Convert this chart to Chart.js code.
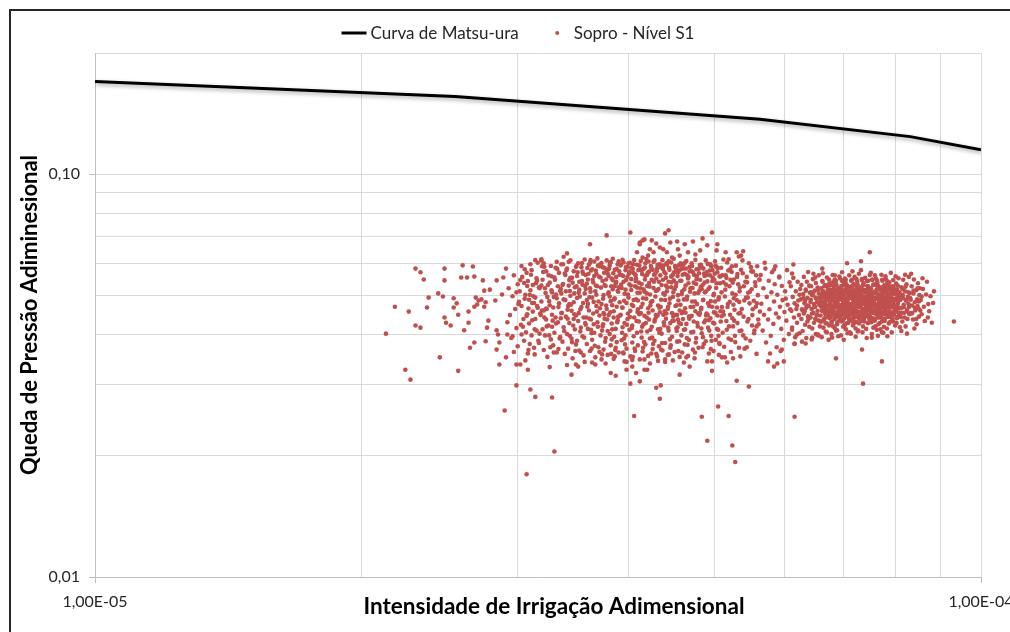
<!DOCTYPE html>
<html lang="pt">
<head>
<meta charset="utf-8">
<title>Curva de Matsu-ura – Sopro Nível S1</title>
<script src="https://cdn.jsdelivr.net/npm/chart.js@4.4.1/dist/chart.umd.min.js"></script>
<style>
  html, body { margin: 0; padding: 0; background: #ffffff; overflow: hidden; }
  #wrap { position: relative; width: 1010px; height: 632px; overflow: hidden; }
  #grafico { position: absolute; left: 0; top: 0; }
  #moldura { position: absolute; left: 9px; top: 9px; width: 1100px; height: 700px;
             border: 2px solid #262626; box-sizing: border-box; pointer-events: none; }
</style>
</head>
<body>
<div id="wrap">
  <canvas id="grafico" width="1040" height="632"></canvas>
  <div id="moldura"></div>
</div>
<script>
// Curva de Matsu-ura (queda de pressão x intensidade de irrigação)
const curvaX = [1.00e-5, 2.55e-5, 5.63e-5, 8.32e-5, 1.00e-4];
const curvaY = [0.170, 0.156, 0.137, 0.124, 0.115];

// Escalas logarítmicas: posições das linhas de grade e rótulos
const ticksX = [1e-5, 2e-5, 3e-5, 4e-5, 5e-5, 6e-5, 7e-5, 8e-5, 9e-5, 1e-4];
const rotulosX = ['1,00E-05', '', '', '', '', '', '', '', '', '1,00E-04'];
const ticksY = [0.01, 0.02, 0.03, 0.04, 0.05, 0.06, 0.07, 0.08, 0.09, 0.1, 0.2];
const rotulosY = ['0,01', '', '', '', '', '', '', '', '', '0,10', ''];

// Ensaios de sopro – nível S1: [intensidade de irrigação, queda de pressão]
const soproPontos = [
[2.13e-5,0.0402],[2.18e-5,0.0469],[2.26e-5,0.0456],[2.30e-5,0.0583],[2.33e-5,0.0571],[2.35e-5,0.0548],[2.30e-5,0.0421],[2.33e-5,0.0416],
[2.38e-5,0.0494],[2.37e-5,0.0467],[2.44e-5,0.0506],[2.47e-5,0.0497],[2.48e-5,0.0583],[2.48e-5,0.0545],[2.48e-5,0.0441],[2.49e-5,0.0428],
[2.52e-5,0.0421],[2.60e-5,0.0594],[2.67e-5,0.0590],[2.59e-5,0.0554],[2.63e-5,0.0554],[2.68e-5,0.0557],[2.54e-5,0.0492],[2.56e-5,0.0478],
[2.54e-5,0.0467],[2.57e-5,0.0448],[2.64e-5,0.0456],[2.61e-5,0.0410],[2.64e-5,0.0428],[2.68e-5,0.0382],[2.65e-5,0.0371],[2.76e-5,0.0385],
[2.74e-5,0.0545],[2.79e-5,0.0517],[2.75e-5,0.0514],[2.69e-5,0.0494],[2.71e-5,0.0486],[2.73e-5,0.0489],[2.76e-5,0.0481],[2.68e-5,0.0469],
[2.70e-5,0.0475],[2.75e-5,0.0469],[2.78e-5,0.0433],[2.83e-5,0.0486],[2.88e-5,0.0503],[2.84e-5,0.0545],[2.89e-5,0.0554],[2.77e-5,0.0416],
[2.84e-5,0.0410],[2.85e-5,0.0400],[2.92e-5,0.0400],[2.96e-5,0.0396],[3.03e-5,0.0400],[2.84e-5,0.0367],[2.86e-5,0.0382],
[2.24e-5,0.0327],[2.27e-5,0.0309],[2.45e-5,0.0351],[2.57e-5,0.0325],[2.86e-5,0.0337],[2.91e-5,0.0351],[2.99e-5,0.0337],[3.02e-5,0.0337],
[3.08e-5,0.0327],[2.99e-5,0.0299],[3.10e-5,0.0292],[3.14e-5,0.0280],[3.28e-5,0.0279],[2.90e-5,0.0259],[3.30e-5,0.0205],[3.07e-5,0.0180],
[4.02e-5,0.0302],[4.12e-5,0.0306],[4.30e-5,0.0295],[4.35e-5,0.0299],[4.34e-5,0.0277],[4.06e-5,0.0251],[4.57e-5,0.0318],[4.69e-5,0.0333],
[4.97e-5,0.0325],[5.30e-5,0.0307],[5.47e-5,0.0297],[5.05e-5,0.0265],[4.84e-5,0.0250],[5.19e-5,0.0251],[4.91e-5,0.0218],[5.24e-5,0.0212],
[5.28e-5,0.0193],[3.82e-5,0.0321],[3.87e-5,0.0316],[3.45e-5,0.0318],
[6.16e-5,0.0250],[6.86e-5,0.0349],[7.36e-5,0.0302],[7.73e-5,0.0343],[5.75e-5,0.0343],[5.84e-5,0.0333],[5.89e-5,0.0339],[5.99e-5,0.0343],
[7.49e-5,0.0640],[7.06e-5,0.0601],[7.32e-5,0.0608],[6.14e-5,0.0597],[6.62e-5,0.0583],[9.32e-5,0.0431],[7.34e-5,0.0367],[7.53e-5,0.0393],
[7.73e-5,0.0405],[7.26e-5,0.0407],[6.16e-5,0.0380],[6.34e-5,0.0380],[5.96e-5,0.0367],
[3.62e-5,0.0670],[3.78e-5,0.0705],[4.02e-5,0.0717],[4.40e-5,0.0713],[4.44e-5,0.0726],[4.97e-5,0.0717],[5.04e-5,0.0670],[5.39e-5,0.0644],
[5.33e-5,0.0625],[4.12e-5,0.0670],[4.15e-5,0.0685],
[4.12e-5,0.0677],[4.17e-5,0.0689],[4.25e-5,0.0685],[4.30e-5,0.0673],[4.34e-5,0.0658],[4.23e-5,0.0651],[4.27e-5,0.0640],[4.38e-5,0.0651],
[4.46e-5,0.0677],[4.54e-5,0.0681],[4.55e-5,0.0651],[4.63e-5,0.0670],[4.73e-5,0.0681],[4.85e-5,0.0693],[4.91e-5,0.0666],[4.82e-5,0.0647],
[4.76e-5,0.0632],[4.67e-5,0.0640],[4.57e-5,0.0628],[4.48e-5,0.0621],[4.42e-5,0.0640],[4.21e-5,0.0628],[4.15e-5,0.0621],[4.09e-5,0.0640],
[5.30e-5,0.0640],[5.36e-5,0.0628],[5.15e-5,0.0640],[5.19e-5,0.0615],[5.03e-5,0.0647],
[3.41e-5,0.0636],[3.19e-5,0.0615],[3.14e-5,0.0612],
[3.49e-5,0.0337],[3.51e-5,0.0333],[3.64e-5,0.0341],[3.67e-5,0.0337],[3.73e-5,0.0347],[3.86e-5,0.0353],[3.96e-5,0.0343],[3.98e-5,0.0327],
[4.04e-5,0.0333],[4.08e-5,0.0321],[4.12e-5,0.0347],[4.17e-5,0.0327],[4.20e-5,0.0327],[4.31e-5,0.0353],[4.40e-5,0.0347],[4.65e-5,0.0351],
[4.91e-5,0.0343],[4.97e-5,0.0343],[5.10e-5,0.0351],[5.17e-5,0.0341],[5.25e-5,0.0349],[5.35e-5,0.0353],
[2.91e-5,0.0583],[2.93e-5,0.0521],[2.94e-5,0.0447],[2.95e-5,0.0392],[2.96e-5,0.0498],[2.97e-5,0.0561],[2.98e-5,0.0463],[2.99e-5,0.0415],
[3.00e-5,0.0533],[3.00e-5,0.0374],[3.01e-5,0.0482],[2.92e-5,0.0429],[2.97e-5,0.0362],[3.02e-5,0.0546],[2.99e-5,0.0509],
[3.03e-5,0.0592],[3.03e-5,0.0471],[3.04e-5,0.0418],[3.05e-5,0.0537],[3.05e-5,0.0386],[3.06e-5,0.0502],[3.07e-5,0.0445],[3.07e-5,0.0569],
[3.08e-5,0.0359],[3.09e-5,0.0488],[3.09e-5,0.0426],[3.10e-5,0.0515],[3.11e-5,0.0398],[3.11e-5,0.0578],[3.12e-5,0.0456],[3.12e-5,0.0531],
[3.13e-5,0.0371],[3.14e-5,0.0494],[3.14e-5,0.0437],[3.15e-5,0.0552],[3.15e-5,0.0409],[3.16e-5,0.0466],[3.16e-5,0.0603],[3.17e-5,0.0381],
[3.17e-5,0.0524],[3.18e-5,0.0451],[3.06e-5,0.0345],[3.10e-5,0.0598],[3.13e-5,0.0479],[3.08e-5,0.0543],
[3.19e-5,0.0611],[3.19e-5,0.0483],[3.20e-5,0.0412],[3.20e-5,0.0547],[3.21e-5,0.0366],[3.21e-5,0.0459],[3.22e-5,0.0521],[3.22e-5,0.0398],
[3.23e-5,0.0574],[3.23e-5,0.0436],[3.24e-5,0.0496],[3.24e-5,0.0352],[3.25e-5,0.0561],[3.25e-5,0.0421],[3.26e-5,0.0473],[3.26e-5,0.0538],
[3.27e-5,0.0389],[3.27e-5,0.0592],[3.28e-5,0.0448],[3.28e-5,0.0509],[3.29e-5,0.0376],[3.29e-5,0.0467],[3.30e-5,0.0554],[3.30e-5,0.0404],
[3.31e-5,0.0586],[3.31e-5,0.0441],[3.32e-5,0.0492],[3.32e-5,0.0361],[3.33e-5,0.0527],[3.33e-5,0.0429],[3.34e-5,0.0478],[3.34e-5,0.0569],
[3.35e-5,0.0394],[3.35e-5,0.0513],[3.21e-5,0.0601],[3.26e-5,0.0332],[3.23e-5,0.0464],[3.28e-5,0.0418],[3.32e-5,0.0606],[3.19e-5,0.0529],
[3.36e-5,0.0598],[3.36e-5,0.0452],[3.37e-5,0.0384],[3.37e-5,0.0531],[3.38e-5,0.0417],[3.38e-5,0.0489],[3.39e-5,0.0567],[3.39e-5,0.0358],
[3.40e-5,0.0443],[3.40e-5,0.0512],[3.41e-5,0.0401],[3.41e-5,0.0583],[3.42e-5,0.0471],[3.42e-5,0.0369],[3.43e-5,0.0546],[3.43e-5,0.0427],
[3.44e-5,0.0499],[3.44e-5,0.0611],[3.45e-5,0.0391],[3.45e-5,0.0458],[3.46e-5,0.0538],[3.46e-5,0.0349],[3.47e-5,0.0481],[3.47e-5,0.0574],
[3.48e-5,0.0412],[3.48e-5,0.0524],[3.49e-5,0.0446],[3.49e-5,0.0378],[3.50e-5,0.0559],[3.50e-5,0.0493],[3.51e-5,0.0432],[3.51e-5,0.0601],
[3.52e-5,0.0365],[3.52e-5,0.0517],[3.53e-5,0.0462],[3.53e-5,0.0407],[3.38e-5,0.0624],[3.41e-5,0.0336],[3.44e-5,0.0553],[3.47e-5,0.0437],
[3.50e-5,0.0386],[3.36e-5,0.0506],[3.43e-5,0.0476],[3.49e-5,0.0589],[3.52e-5,0.0541],
[3.54e-5,0.0588],[3.54e-5,0.0468],[3.55e-5,0.0396],[3.55e-5,0.0532],[3.56e-5,0.0355],[3.56e-5,0.0441],[3.57e-5,0.0506],[3.57e-5,0.0614],
[3.58e-5,0.0423],[3.58e-5,0.0562],[3.59e-5,0.0379],[3.59e-5,0.0487],[3.60e-5,0.0548],[3.60e-5,0.0413],[3.61e-5,0.0596],[3.61e-5,0.0459],
[3.62e-5,0.0364],[3.62e-5,0.0521],[3.63e-5,0.0436],[3.63e-5,0.0577],[3.64e-5,0.0494],[3.64e-5,0.0388],[3.65e-5,0.0539],[3.65e-5,0.0451],
[3.66e-5,0.0607],[3.66e-5,0.0404],[3.67e-5,0.0512],[3.67e-5,0.0351],[3.68e-5,0.0471],[3.68e-5,0.0566],[3.69e-5,0.0429],[3.69e-5,0.0527],
[3.70e-5,0.0372],[3.70e-5,0.0483],[3.71e-5,0.0591],[3.71e-5,0.0446],[3.72e-5,0.0398],[3.72e-5,0.0554],[3.55e-5,0.0573],[3.58e-5,0.0519],
[3.60e-5,0.0477],[3.62e-5,0.0603],[3.64e-5,0.0581],[3.66e-5,0.0559],[3.68e-5,0.0502],[3.57e-5,0.0342],[3.63e-5,0.0411],[3.69e-5,0.0618],
[3.71e-5,0.0362],[3.59e-5,0.0535],
[3.73e-5,0.0602],[3.73e-5,0.0476],[3.74e-5,0.0419],[3.74e-5,0.0543],[3.75e-5,0.0367],[3.75e-5,0.0501],[3.76e-5,0.0585],[3.76e-5,0.0438],
[3.77e-5,0.0392],[3.77e-5,0.0528],[3.78e-5,0.0611],[3.78e-5,0.0463],[3.79e-5,0.0356],[3.79e-5,0.0567],[3.80e-5,0.0447],[3.80e-5,0.0509],
[3.81e-5,0.0401],[3.81e-5,0.0594],[3.82e-5,0.0484],[3.82e-5,0.0376],[3.83e-5,0.0551],[3.83e-5,0.0426],[3.84e-5,0.0518],[3.84e-5,0.0617],
[3.85e-5,0.0457],[3.85e-5,0.0348],[3.86e-5,0.0579],[3.86e-5,0.0492],[3.87e-5,0.0413],[3.87e-5,0.0536],[3.88e-5,0.0383],[3.88e-5,0.0469],
[3.89e-5,0.0598],[3.89e-5,0.0434],[3.90e-5,0.0524],[3.90e-5,0.0361],[3.91e-5,0.0481],[3.91e-5,0.0563],[3.74e-5,0.0588],[3.76e-5,0.0531],
[3.78e-5,0.0574],[3.80e-5,0.0559],[3.82e-5,0.0605],[3.84e-5,0.0546],[3.86e-5,0.0527],[3.88e-5,0.0582],[3.90e-5,0.0608],[3.75e-5,0.0452],
[3.79e-5,0.0408],[3.83e-5,0.0389],[3.87e-5,0.0371],[3.77e-5,0.0339],[3.81e-5,0.0497],[3.85e-5,0.0441],[3.89e-5,0.0513],
[3.92e-5,0.0594],[3.92e-5,0.0448],[3.93e-5,0.0387],[3.93e-5,0.0522],[3.94e-5,0.0613],[3.94e-5,0.0466],[3.95e-5,0.0359],[3.95e-5,0.0541],
[3.96e-5,0.0427],[3.96e-5,0.0505],[3.97e-5,0.0578],[3.97e-5,0.0398],[3.98e-5,0.0479],[3.98e-5,0.0369],[3.99e-5,0.0556],[3.99e-5,0.0437],
[4.00e-5,0.0601],[4.00e-5,0.0494],[4.01e-5,0.0411],[4.01e-5,0.0533],[4.02e-5,0.0353],[4.02e-5,0.0458],[4.03e-5,0.0587],[4.03e-5,0.0516],
[4.04e-5,0.0421],[4.04e-5,0.0382],[4.05e-5,0.0569],[4.05e-5,0.0471],[4.06e-5,0.0612],[4.06e-5,0.0441],[4.07e-5,0.0527],[4.07e-5,0.0364],
[4.08e-5,0.0489],[4.08e-5,0.0551],[4.09e-5,0.0404],[4.09e-5,0.0596],[4.10e-5,0.0462],[4.10e-5,0.0376],[4.11e-5,0.0538],[4.11e-5,0.0431],
[4.12e-5,0.0508],[4.12e-5,0.0581],[3.93e-5,0.0562],[3.95e-5,0.0604],[3.97e-5,0.0517],[3.99e-5,0.0589],[4.01e-5,0.0573],[4.03e-5,0.0549],
[4.05e-5,0.0598],[4.07e-5,0.0564],[4.09e-5,0.0523],[3.94e-5,0.0417],[3.98e-5,0.0342],[4.04e-5,0.0346],[4.10e-5,0.0486],
[4.13e-5,0.0609],[4.13e-5,0.0452],[4.14e-5,0.0393],[4.14e-5,0.0534],[4.15e-5,0.0477],[4.15e-5,0.0363],[4.16e-5,0.0582],[4.16e-5,0.0424],
[4.17e-5,0.0511],[4.17e-5,0.0445],[4.18e-5,0.0559],[4.18e-5,0.0378],[4.19e-5,0.0491],[4.19e-5,0.0616],[4.20e-5,0.0407],[4.20e-5,0.0528],
[4.21e-5,0.0465],[4.21e-5,0.0354],[4.22e-5,0.0573],[4.22e-5,0.0436],[4.23e-5,0.0503],[4.23e-5,0.0391],[4.24e-5,0.0592],[4.24e-5,0.0481],
[4.25e-5,0.0418],[4.25e-5,0.0547],[4.26e-5,0.0368],[4.26e-5,0.0459],[4.27e-5,0.0606],[4.27e-5,0.0522],[4.28e-5,0.0431],[4.28e-5,0.0386],
[4.29e-5,0.0566],[4.29e-5,0.0497],[4.30e-5,0.0443],[4.30e-5,0.0358],[4.31e-5,0.0584],[4.31e-5,0.0515],[4.32e-5,0.0412],[4.32e-5,0.0472],
[4.33e-5,0.0541],[4.33e-5,0.0374],[4.34e-5,0.0598],[4.34e-5,0.0454],[4.14e-5,0.0577],[4.16e-5,0.0518],[4.18e-5,0.0601],[4.20e-5,0.0563],
[4.22e-5,0.0537],[4.26e-5,0.0579],[4.28e-5,0.0611],[4.30e-5,0.0551],[4.17e-5,0.0347],[4.23e-5,0.0339],[4.32e-5,0.0344],
[4.35e-5,0.0588],[4.35e-5,0.0469],[4.36e-5,0.0402],[4.36e-5,0.0531],[4.37e-5,0.0365],[4.37e-5,0.0612],[4.38e-5,0.0448],[4.38e-5,0.0506],
[4.39e-5,0.0572],[4.39e-5,0.0421],[4.40e-5,0.0487],[4.40e-5,0.0381],[4.41e-5,0.0553],[4.41e-5,0.0438],[4.42e-5,0.0597],[4.42e-5,0.0512],
[4.43e-5,0.0356],[4.43e-5,0.0463],[4.44e-5,0.0541],[4.44e-5,0.0409],[4.45e-5,0.0579],[4.45e-5,0.0478],[4.46e-5,0.0427],[4.46e-5,0.0371],
[4.47e-5,0.0524],[4.47e-5,0.0604],[4.48e-5,0.0452],[4.48e-5,0.0395],[4.49e-5,0.0563],[4.49e-5,0.0496],[4.50e-5,0.0433],[4.50e-5,0.0617],
[4.51e-5,0.0362],[4.51e-5,0.0518],[4.52e-5,0.0471],[4.52e-5,0.0586],[4.53e-5,0.0414],[4.53e-5,0.0537],[4.54e-5,0.0447],[4.54e-5,0.0384],
[4.55e-5,0.0571],[4.55e-5,0.0501],[4.56e-5,0.0428],[4.56e-5,0.0594],[4.57e-5,0.0459],[4.57e-5,0.0352],[4.38e-5,0.0593],[4.41e-5,0.0529],
[4.44e-5,0.0608],[4.47e-5,0.0557],[4.50e-5,0.0545],[4.53e-5,0.0582],[4.40e-5,0.0342],[4.49e-5,0.0345],[4.55e-5,0.0436],
[4.58e-5,0.0601],[4.58e-5,0.0474],[4.59e-5,0.0398],[4.59e-5,0.0544],[4.60e-5,0.0361],[4.60e-5,0.0512],[4.61e-5,0.0437],[4.61e-5,0.0583],
[4.62e-5,0.0489],[4.62e-5,0.0411],[4.63e-5,0.0566],[4.63e-5,0.0378],[4.64e-5,0.0453],[4.64e-5,0.0529],[4.65e-5,0.0609],[4.65e-5,0.0425],
[4.66e-5,0.0497],[4.67e-5,0.0354],[4.67e-5,0.0551],[4.68e-5,0.0443],[4.68e-5,0.0388],[4.69e-5,0.0574],[4.70e-5,0.0468],[4.70e-5,0.0521],
[4.71e-5,0.0405],[4.72e-5,0.0592],[4.72e-5,0.0483],[4.73e-5,0.0367],[4.74e-5,0.0538],[4.74e-5,0.0431],[4.75e-5,0.0506],[4.76e-5,0.0613],
[4.76e-5,0.0457],[4.77e-5,0.0392],[4.78e-5,0.0559],[4.78e-5,0.0476],[4.79e-5,0.0419],[4.80e-5,0.0582],[4.80e-5,0.0371],[4.81e-5,0.0514],
[4.81e-5,0.0448],[4.82e-5,0.0547],[4.60e-5,0.0587],[4.63e-5,0.0603],[4.66e-5,0.0561],[4.69e-5,0.0589],[4.73e-5,0.0571],[4.77e-5,0.0534],
[4.62e-5,0.0341],[4.75e-5,0.0349],
[4.83e-5,0.0596],[4.83e-5,0.0462],[4.84e-5,0.0403],[4.85e-5,0.0531],[4.85e-5,0.0372],[4.86e-5,0.0488],[4.87e-5,0.0567],[4.87e-5,0.0429],
[4.88e-5,0.0509],[4.89e-5,0.0385],[4.89e-5,0.0611],[4.90e-5,0.0451],[4.91e-5,0.0542],[4.92e-5,0.0416],[4.92e-5,0.0478],[4.93e-5,0.0359],
[4.94e-5,0.0577],[4.94e-5,0.0524],[4.95e-5,0.0439],[4.96e-5,0.0397],[4.96e-5,0.0591],[4.97e-5,0.0469],[4.98e-5,0.0553],[4.99e-5,0.0364],
[4.99e-5,0.0501],[5.00e-5,0.0426],[5.01e-5,0.0608],[5.01e-5,0.0483],[5.02e-5,0.0388],[5.03e-5,0.0536],[5.04e-5,0.0446],[5.04e-5,0.0571],
[5.05e-5,0.0411],[5.06e-5,0.0495],[5.06e-5,0.0356],[5.07e-5,0.0558],[5.08e-5,0.0457],[4.86e-5,0.0583],[4.90e-5,0.0562],[4.95e-5,0.0598],
[5.00e-5,0.0547],[5.03e-5,0.0589],[4.84e-5,0.0519],[4.93e-5,0.0434],[5.07e-5,0.0379],
[5.09e-5,0.0586],[5.10e-5,0.0468],[5.11e-5,0.0404],[5.12e-5,0.0539],[5.13e-5,0.0373],[5.14e-5,0.0497],[5.15e-5,0.0561],[5.16e-5,0.0432],
[5.17e-5,0.0604],[5.18e-5,0.0476],[5.19e-5,0.0391],[5.20e-5,0.0527],[5.21e-5,0.0448],[5.22e-5,0.0362],[5.23e-5,0.0572],[5.24e-5,0.0506],
[5.25e-5,0.0419],[5.26e-5,0.0548],[5.27e-5,0.0461],[5.28e-5,0.0383],[5.29e-5,0.0593],[5.30e-5,0.0487],[5.31e-5,0.0427],[5.32e-5,0.0533],
[5.33e-5,0.0371],[5.34e-5,0.0512],[5.35e-5,0.0452],[5.12e-5,0.0614],[5.16e-5,0.0553],[5.21e-5,0.0581],[5.26e-5,0.0492],[5.31e-5,0.0565],
[5.14e-5,0.0351],[5.24e-5,0.0439],[5.34e-5,0.0408],
[5.36e-5,0.0579],[5.37e-5,0.0463],[5.39e-5,0.0398],[5.40e-5,0.0527],[5.41e-5,0.0369],[5.43e-5,0.0494],[5.44e-5,0.0556],[5.45e-5,0.0431],
[5.47e-5,0.0601],[5.48e-5,0.0478],[5.49e-5,0.0386],[5.51e-5,0.0518],[5.52e-5,0.0447],[5.53e-5,0.0573],[5.55e-5,0.0409],[5.56e-5,0.0539],
[5.57e-5,0.0469],[5.58e-5,0.0358],[5.59e-5,0.0591],[5.60e-5,0.0501],[5.61e-5,0.0424],[5.62e-5,0.0548],[5.63e-5,0.0456],[5.38e-5,0.0611],
[5.42e-5,0.0541],[5.46e-5,0.0508],[5.50e-5,0.0588],[5.54e-5,0.0485],[5.58e-5,0.0419],[5.44e-5,0.0372],
[5.64e-5,0.0562],[5.65e-5,0.0477],[5.67e-5,0.0409],[5.68e-5,0.0521],[5.69e-5,0.0448],[5.71e-5,0.0583],[5.72e-5,0.0382],[5.73e-5,0.0496],
[5.75e-5,0.0436],[5.76e-5,0.0544],[5.77e-5,0.0462],[5.79e-5,0.0397],[5.80e-5,0.0509],[5.81e-5,0.0571],[5.83e-5,0.0425],[5.84e-5,0.0483],
[5.85e-5,0.0533],[5.87e-5,0.0451],[5.88e-5,0.0372],[5.89e-5,0.0502],[5.91e-5,0.0441],[5.92e-5,0.0557],[5.93e-5,0.0469],[5.95e-5,0.0413],
[5.96e-5,0.0528],[5.97e-5,0.0487],[5.99e-5,0.0388],[6.00e-5,0.0455],[6.01e-5,0.0512],[6.03e-5,0.0433],[6.04e-5,0.0578],[6.05e-5,0.0474],
[6.07e-5,0.0401],[6.08e-5,0.0539],[6.09e-5,0.0462],[5.70e-5,0.0603],[5.78e-5,0.0359],[5.86e-5,0.0591],[5.94e-5,0.0364],[6.02e-5,0.0491],
[6.10e-5,0.0527],[6.11e-5,0.0458],[6.12e-5,0.0411],[6.13e-5,0.0496],[6.14e-5,0.0553],[6.15e-5,0.0441],[6.16e-5,0.0478],[6.17e-5,0.0394],
[6.18e-5,0.0512],[6.19e-5,0.0463],[6.20e-5,0.0428],[6.21e-5,0.0541],[6.22e-5,0.0486],[6.23e-5,0.0447],[6.24e-5,0.0403],[6.25e-5,0.0519],
[6.12e-5,0.0567],[6.16e-5,0.0379],[6.20e-5,0.0472],[6.24e-5,0.0502],
[6.26e-5,0.0489],[6.27e-5,0.0437],[6.27e-5,0.0531],[6.28e-5,0.0462],[6.29e-5,0.0408],[6.30e-5,0.0504],[6.31e-5,0.0556],[6.31e-5,0.0451],
[6.32e-5,0.0478],[6.33e-5,0.0423],[6.34e-5,0.0517],[6.35e-5,0.0466],[6.35e-5,0.0392],[6.36e-5,0.0541],[6.37e-5,0.0493],[6.38e-5,0.0444],
[6.38e-5,0.0572],[6.39e-5,0.0471],[6.40e-5,0.0418],[6.41e-5,0.0508],[6.29e-5,0.0459],[6.33e-5,0.0485],[6.37e-5,0.0431],[6.40e-5,0.0528],
[6.28e-5,0.0384],
[6.42e-5,0.0482],[6.42e-5,0.0441],[6.43e-5,0.0527],[6.44e-5,0.0463],[6.45e-5,0.0414],[6.45e-5,0.0501],[6.46e-5,0.0549],[6.47e-5,0.0453],
[6.48e-5,0.0476],[6.48e-5,0.0428],[6.49e-5,0.0514],[6.50e-5,0.0469],[6.51e-5,0.0537],[6.51e-5,0.0401],[6.52e-5,0.0491],[6.53e-5,0.0447],
[6.54e-5,0.0523],[6.54e-5,0.0458],[6.55e-5,0.0434],[6.56e-5,0.0506],[6.56e-5,0.0561],[6.57e-5,0.0474],[6.58e-5,0.0419],[6.58e-5,0.0495],
[6.44e-5,0.0389],[6.47e-5,0.0566],[6.50e-5,0.0437],[6.53e-5,0.0481],[6.55e-5,0.0398],[6.43e-5,0.0509],
[6.59e-5,0.0487],[6.59e-5,0.0446],[6.60e-5,0.0521],[6.60e-5,0.0469],[6.61e-5,0.0431],[6.62e-5,0.0503],[6.62e-5,0.0543],[6.63e-5,0.0458],
[6.63e-5,0.0479],[6.64e-5,0.0416],[6.64e-5,0.0512],[6.65e-5,0.0466],[6.66e-5,0.0494],[6.66e-5,0.0439],[6.67e-5,0.0531],[6.67e-5,0.0452],
[6.68e-5,0.0485],[6.68e-5,0.0407],[6.69e-5,0.0508],[6.69e-5,0.0462],[6.70e-5,0.0554],[6.70e-5,0.0426],[6.71e-5,0.0491],[6.71e-5,0.0472],
[6.72e-5,0.0518],[6.72e-5,0.0443],[6.73e-5,0.0499],[6.73e-5,0.0457],[6.74e-5,0.0535],[6.74e-5,0.0421],[6.75e-5,0.0476],[6.75e-5,0.0509],
[6.61e-5,0.0394],[6.63e-5,0.0568],[6.65e-5,0.0435],[6.67e-5,0.0474],[6.69e-5,0.0527],[6.71e-5,0.0449],[6.73e-5,0.0388],[6.62e-5,0.0497],
[6.76e-5,0.0483],[6.76e-5,0.0442],[6.77e-5,0.0516],[6.77e-5,0.0461],[6.78e-5,0.0428],[6.78e-5,0.0497],[6.79e-5,0.0538],[6.79e-5,0.0471],
[6.80e-5,0.0452],[6.80e-5,0.0506],[6.81e-5,0.0419],[6.81e-5,0.0488],[6.82e-5,0.0527],[6.82e-5,0.0465],[6.83e-5,0.0437],[6.83e-5,0.0499],
[6.84e-5,0.0477],[6.84e-5,0.0548],[6.85e-5,0.0448],[6.85e-5,0.0512],[6.86e-5,0.0409],[6.86e-5,0.0468],[6.87e-5,0.0491],[6.87e-5,0.0531],
[6.88e-5,0.0456],[6.88e-5,0.0424],[6.89e-5,0.0503],[6.89e-5,0.0479],[6.90e-5,0.0443],[6.90e-5,0.0521],[6.91e-5,0.0463],[6.91e-5,0.0494],
[6.92e-5,0.0434],[6.92e-5,0.0557],[6.93e-5,0.0472],[6.93e-5,0.0508],[6.78e-5,0.0401],[6.80e-5,0.0562],[6.82e-5,0.0485],[6.84e-5,0.0415],
[6.86e-5,0.0544],[6.88e-5,0.0488],[6.90e-5,0.0396],[6.92e-5,0.0517],[6.77e-5,0.0458],
[6.94e-5,0.0489],[6.94e-5,0.0447],[6.95e-5,0.0523],[6.95e-5,0.0466],[6.96e-5,0.0431],[6.96e-5,0.0501],[6.97e-5,0.0543],[6.97e-5,0.0474],
[6.98e-5,0.0455],[6.98e-5,0.0513],[6.99e-5,0.0418],[6.99e-5,0.0485],[7.00e-5,0.0532],[7.00e-5,0.0461],[7.01e-5,0.0439],[7.01e-5,0.0496],
[7.02e-5,0.0478],[7.02e-5,0.0551],[7.03e-5,0.0451],[7.03e-5,0.0509],[7.04e-5,0.0412],[7.04e-5,0.0469],[7.05e-5,0.0492],[7.05e-5,0.0527],
[7.06e-5,0.0458],[7.06e-5,0.0427],[7.07e-5,0.0505],[7.07e-5,0.0482],[7.08e-5,0.0444],[7.08e-5,0.0518],[7.09e-5,0.0467],[7.09e-5,0.0498],
[7.10e-5,0.0436],[7.10e-5,0.0561],[7.11e-5,0.0475],[7.11e-5,0.0511],[6.95e-5,0.0398],[6.97e-5,0.0571],[6.99e-5,0.0479],[7.01e-5,0.0421],
[7.03e-5,0.0539],[7.05e-5,0.0487],[7.07e-5,0.0403],[7.09e-5,0.0524],[7.00e-5,0.0388],
[7.12e-5,0.0493],[7.12e-5,0.0449],[7.13e-5,0.0526],[7.13e-5,0.0468],[7.14e-5,0.0433],[7.14e-5,0.0504],[7.15e-5,0.0547],[7.15e-5,0.0477],
[7.16e-5,0.0457],[7.16e-5,0.0515],[7.17e-5,0.0421],[7.17e-5,0.0488],[7.18e-5,0.0534],[7.18e-5,0.0463],[7.19e-5,0.0441],[7.19e-5,0.0499],
[7.20e-5,0.0481],[7.20e-5,0.0556],[7.21e-5,0.0453],[7.21e-5,0.0511],[7.22e-5,0.0414],[7.22e-5,0.0471],[7.23e-5,0.0495],[7.23e-5,0.0529],
[7.24e-5,0.0459],[7.24e-5,0.0429],[7.25e-5,0.0507],[7.25e-5,0.0484],[7.26e-5,0.0446],[7.26e-5,0.0521],[7.27e-5,0.0469],[7.27e-5,0.0502],
[7.28e-5,0.0438],[7.28e-5,0.0566],[7.29e-5,0.0478],[7.29e-5,0.0514],[7.30e-5,0.0455],[7.13e-5,0.0402],[7.16e-5,0.0574],[7.19e-5,0.0486],
[7.22e-5,0.0395],[7.25e-5,0.0541],[7.28e-5,0.0491],[7.18e-5,0.0425],[7.27e-5,0.0409],
[7.31e-5,0.0491],[7.31e-5,0.0446],[7.32e-5,0.0524],[7.32e-5,0.0467],[7.33e-5,0.0432],[7.33e-5,0.0502],[7.34e-5,0.0549],[7.34e-5,0.0475],
[7.35e-5,0.0456],[7.36e-5,0.0513],[7.36e-5,0.0419],[7.37e-5,0.0487],[7.37e-5,0.0536],[7.38e-5,0.0462],[7.38e-5,0.0439],[7.39e-5,0.0497],
[7.40e-5,0.0479],[7.40e-5,0.0553],[7.41e-5,0.0452],[7.41e-5,0.0509],[7.42e-5,0.0413],[7.42e-5,0.0471],[7.43e-5,0.0494],[7.44e-5,0.0528],
[7.44e-5,0.0458],[7.45e-5,0.0427],[7.45e-5,0.0506],[7.46e-5,0.0483],[7.46e-5,0.0445],[7.47e-5,0.0519],[7.47e-5,0.0466],[7.48e-5,0.0501],
[7.48e-5,0.0437],[7.49e-5,0.0562],[7.49e-5,0.0477],[7.32e-5,0.0578],[7.35e-5,0.0405],[7.38e-5,0.0516],[7.41e-5,0.0485],[7.43e-5,0.0392],
[7.46e-5,0.0544],[7.48e-5,0.0461],[7.34e-5,0.0489],[7.39e-5,0.0448],[7.44e-5,0.0473],
[7.50e-5,0.0488],[7.50e-5,0.0443],[7.51e-5,0.0521],[7.52e-5,0.0464],[7.52e-5,0.0429],[7.53e-5,0.0499],[7.54e-5,0.0546],[7.54e-5,0.0472],
[7.55e-5,0.0453],[7.56e-5,0.0511],[7.56e-5,0.0416],[7.57e-5,0.0485],[7.58e-5,0.0533],[7.58e-5,0.0459],[7.59e-5,0.0436],[7.60e-5,0.0494],
[7.60e-5,0.0476],[7.61e-5,0.0551],[7.62e-5,0.0449],[7.62e-5,0.0506],[7.63e-5,0.0411],[7.64e-5,0.0468],[7.64e-5,0.0491],[7.65e-5,0.0526],
[7.66e-5,0.0455],[7.66e-5,0.0424],[7.67e-5,0.0503],[7.68e-5,0.0481],[7.68e-5,0.0441],[7.69e-5,0.0517],[7.51e-5,0.0569],[7.53e-5,0.0401],
[7.55e-5,0.0492],[7.57e-5,0.0438],[7.59e-5,0.0561],[7.61e-5,0.0465],[7.63e-5,0.0529],[7.65e-5,0.0397],[7.67e-5,0.0473],[7.69e-5,0.0458],
[7.52e-5,0.0505],[7.56e-5,0.0482],[7.60e-5,0.0419],[7.64e-5,0.0538],[7.68e-5,0.0497],
[7.70e-5,0.0486],[7.71e-5,0.0445],[7.71e-5,0.0523],[7.72e-5,0.0466],[7.73e-5,0.0431],[7.73e-5,0.0502],[7.74e-5,0.0544],[7.75e-5,0.0473],
[7.75e-5,0.0454],[7.76e-5,0.0513],[7.77e-5,0.0418],[7.77e-5,0.0489],[7.78e-5,0.0531],[7.79e-5,0.0461],[7.79e-5,0.0438],[7.80e-5,0.0497],
[7.81e-5,0.0478],[7.81e-5,0.0549],[7.82e-5,0.0451],[7.83e-5,0.0508],[7.83e-5,0.0414],[7.84e-5,0.0469],[7.85e-5,0.0493],[7.85e-5,0.0527],
[7.86e-5,0.0457],[7.87e-5,0.0426],[7.87e-5,0.0504],[7.88e-5,0.0482],[7.89e-5,0.0443],[7.89e-5,0.0518],[7.72e-5,0.0563],[7.76e-5,0.0404],
[7.80e-5,0.0558],[7.84e-5,0.0396],[7.88e-5,0.0539],[7.74e-5,0.0487],[7.78e-5,0.0471],[7.82e-5,0.0521],[7.86e-5,0.0475],[7.70e-5,0.0412],
[7.90e-5,0.0491],[7.91e-5,0.0447],[7.92e-5,0.0526],[7.93e-5,0.0468],[7.94e-5,0.0434],[7.95e-5,0.0504],[7.96e-5,0.0546],[7.97e-5,0.0476],
[7.98e-5,0.0455],[7.99e-5,0.0514],[8.00e-5,0.0421],[8.01e-5,0.0487],[8.02e-5,0.0535],[8.03e-5,0.0463],[8.04e-5,0.0439],[8.05e-5,0.0498],
[8.06e-5,0.0479],[8.07e-5,0.0552],[8.08e-5,0.0452],[8.09e-5,0.0509],[8.10e-5,0.0417],[7.91e-5,0.0569],[7.93e-5,0.0405],[7.95e-5,0.0482],
[7.97e-5,0.0522],[7.99e-5,0.0461],[8.01e-5,0.0558],[8.03e-5,0.0427],[8.05e-5,0.0471],[8.07e-5,0.0493],[8.09e-5,0.0444],[7.92e-5,0.0492],
[7.96e-5,0.0431],[8.00e-5,0.0505],[8.04e-5,0.0517],
[8.11e-5,0.0488],[8.12e-5,0.0442],[8.13e-5,0.0524],[8.14e-5,0.0466],[8.15e-5,0.0431],[8.16e-5,0.0501],[8.17e-5,0.0547],[8.18e-5,0.0474],
[8.19e-5,0.0453],[8.21e-5,0.0512],[8.22e-5,0.0419],[8.23e-5,0.0485],[8.24e-5,0.0533],[8.25e-5,0.0461],[8.26e-5,0.0437],[8.27e-5,0.0496],
[8.28e-5,0.0477],[8.29e-5,0.0556],[8.30e-5,0.0449],[8.31e-5,0.0507],[8.13e-5,0.0408],[8.17e-5,0.0492],[8.21e-5,0.0563],[8.25e-5,0.0402],
[8.29e-5,0.0468],
[8.32e-5,0.0493],[8.33e-5,0.0451],[8.35e-5,0.0527],[8.36e-5,0.0472],[8.38e-5,0.0436],[8.39e-5,0.0506],[8.40e-5,0.0548],[8.42e-5,0.0481],
[8.43e-5,0.0459],[8.45e-5,0.0515],[8.46e-5,0.0424],[8.47e-5,0.0489],[8.49e-5,0.0536],[8.50e-5,0.0464],[8.51e-5,0.0443],[8.52e-5,0.0501],
[8.34e-5,0.0566],[8.41e-5,0.0414],[8.48e-5,0.0471],[8.53e-5,0.0521],
[8.55e-5,0.0487],[8.57e-5,0.0449],[8.60e-5,0.0519],[8.62e-5,0.0469],[8.64e-5,0.0432],[8.67e-5,0.0503],[8.69e-5,0.0541],[8.72e-5,0.0476],
[8.74e-5,0.0457],[8.77e-5,0.0498],[8.80e-5,0.0428],[8.83e-5,0.0479],[8.85e-5,0.0512],[8.59e-5,0.0552],[8.71e-5,0.0441],
[6.84e-5,0.0561],[6.50e-5,0.0554],[5.84e-5,0.0580],[5.92e-5,0.0554],[6.55e-5,0.0400],[6.79e-5,0.0393],[6.88e-5,0.0410],[6.70e-5,0.0405],
[6.20e-5,0.0400],[6.45e-5,0.0393],[6.12e-5,0.0416],[7.02e-5,0.0423],[7.11e-5,0.0405],
[3.035e-5,0.0556],[3.045e-5,0.0437],[3.055e-5,0.0491],[3.065e-5,0.0405],[3.075e-5,0.0528],[3.085e-5,0.0464],[3.095e-5,0.0379],[3.015e-5,0.0512],
[3.025e-5,0.0423],[3.055e-5,0.0581],[3.075e-5,0.0449],[3.085e-5,0.0366],[3.095e-5,0.0502],[3.005e-5,0.0476],
[3.105e-5,0.0563],[3.115e-5,0.0434],[3.125e-5,0.0498],[3.135e-5,0.0412],[3.145e-5,0.0536],[3.155e-5,0.0471],[3.165e-5,0.0386],[3.175e-5,0.0521],
[3.185e-5,0.0447],[3.195e-5,0.0591],[3.115e-5,0.0479],[3.135e-5,0.0357],[3.155e-5,0.0544],[3.175e-5,0.0402],[3.195e-5,0.0459],
[3.205e-5,0.0572],[3.215e-5,0.0441],[3.225e-5,0.0507],[3.235e-5,0.0419],[3.245e-5,0.0531],[3.255e-5,0.0484],[3.265e-5,0.0372],[3.275e-5,0.0558],
[3.285e-5,0.0433],[3.295e-5,0.0496],[3.215e-5,0.0589],[3.235e-5,0.0463],[3.255e-5,0.0398],[3.275e-5,0.0515],[3.295e-5,0.0361],
[3.305e-5,0.0547],[3.315e-5,0.0426],[3.325e-5,0.0582],[3.335e-5,0.0468],[3.345e-5,0.0391],[3.355e-5,0.0519],[3.365e-5,0.0453],[3.375e-5,0.0598],
[3.385e-5,0.0408],[3.395e-5,0.0487],[3.315e-5,0.0503],[3.335e-5,0.0368],[3.355e-5,0.0439],[3.375e-5,0.0534],[3.395e-5,0.0562],
[3.405e-5,0.0578],[3.415e-5,0.0461],[3.425e-5,0.0529],[3.435e-5,0.0397],[3.445e-5,0.0474],[3.455e-5,0.0553],[3.465e-5,0.0421],[3.475e-5,0.0506],
[3.485e-5,0.0364],[3.495e-5,0.0592],[3.415e-5,0.0438],[3.435e-5,0.0513],[3.455e-5,0.0383],[3.475e-5,0.0449],[3.495e-5,0.0527],[3.425e-5,0.0606],
[3.505e-5,0.0571],[3.515e-5,0.0452],[3.525e-5,0.0497],[3.535e-5,0.0416],[3.545e-5,0.0543],[3.555e-5,0.0479],[3.565e-5,0.0393],[3.575e-5,0.0528],
[3.585e-5,0.0441],[3.595e-5,0.0585],[3.515e-5,0.0508],[3.535e-5,0.0361],[3.555e-5,0.0566],[3.575e-5,0.0427],[3.595e-5,0.0469],[3.545e-5,0.0602],
[3.605e-5,0.0566],[3.615e-5,0.0438],[3.625e-5,0.0511],[3.635e-5,0.0403],[3.645e-5,0.0547],[3.655e-5,0.0482],[3.665e-5,0.0375],[3.675e-5,0.0529],
[3.685e-5,0.0456],[3.695e-5,0.0593],[3.615e-5,0.0495],[3.635e-5,0.0369],[3.655e-5,0.0424],[3.675e-5,0.0577],[3.695e-5,0.0418],[3.625e-5,0.0612],
[3.705e-5,0.0557],[3.715e-5,0.0465],[3.725e-5,0.0523],[3.735e-5,0.0409],[3.745e-5,0.0491],[3.755e-5,0.0569],[3.765e-5,0.0384],[3.775e-5,0.0548],
[3.785e-5,0.0436],[3.795e-5,0.0505],[3.715e-5,0.0597],[3.735e-5,0.0357],[3.755e-5,0.0449],[3.775e-5,0.0472],[3.795e-5,0.0581],[3.745e-5,0.0424],
[3.805e-5,0.0583],[3.815e-5,0.0454],[3.825e-5,0.0527],[3.835e-5,0.0412],[3.845e-5,0.0568],[3.855e-5,0.0489],[3.865e-5,0.0366],[3.875e-5,0.0541],
[3.885e-5,0.0429],[3.895e-5,0.0511],[3.815e-5,0.0604],[3.835e-5,0.0473],[3.855e-5,0.0395],[3.875e-5,0.0556],[3.895e-5,0.0443],[3.825e-5,0.0358],
[3.905e-5,0.0574],[3.915e-5,0.0446],[3.925e-5,0.0532],[3.935e-5,0.0404],[3.945e-5,0.0559],[3.955e-5,0.0485],[3.965e-5,0.0378],[3.975e-5,0.0546],
[3.985e-5,0.0423],[3.995e-5,0.0503],[3.915e-5,0.0597],[3.935e-5,0.0467],[3.955e-5,0.0391],[3.975e-5,0.0588],[3.995e-5,0.0451],[3.945e-5,0.0361],
[4.005e-5,0.0566],[4.015e-5,0.0442],[4.025e-5,0.0529],[4.035e-5,0.0415],[4.045e-5,0.0582],[4.055e-5,0.0487],[4.065e-5,0.0369],[4.075e-5,0.0543],
[4.085e-5,0.0432],[4.095e-5,0.0508],[4.015e-5,0.0603],[4.035e-5,0.0474],[4.055e-5,0.0396],[4.075e-5,0.0561],[4.095e-5,0.0455],[4.045e-5,0.0352],
[4.105e-5,0.0578],[4.115e-5,0.0449],[4.125e-5,0.0521],[4.135e-5,0.0407],[4.145e-5,0.0565],[4.155e-5,0.0492],[4.165e-5,0.0383],[4.175e-5,0.0548],
[4.185e-5,0.0427],[4.195e-5,0.0506],[4.115e-5,0.0594],[4.135e-5,0.0468],[4.155e-5,0.0371],[4.175e-5,0.0587],[4.195e-5,0.0441],[4.145e-5,0.0418],
[4.205e-5,0.0569],[4.215e-5,0.0453],[4.225e-5,0.0526],[4.235e-5,0.0411],[4.245e-5,0.0585],[4.255e-5,0.0484],[4.265e-5,0.0379],[4.275e-5,0.0541],
[4.285e-5,0.0436],[4.295e-5,0.0513],[4.215e-5,0.0607],[4.235e-5,0.0472],[4.255e-5,0.0393],[4.275e-5,0.0563],[4.295e-5,0.0447],[4.245e-5,0.0359],
[4.305e-5,0.0574],[4.315e-5,0.0446],[4.325e-5,0.0519],[4.335e-5,0.0404],[4.345e-5,0.0561],[4.355e-5,0.0488],[4.365e-5,0.0381],[4.375e-5,0.0547],
[4.385e-5,0.0429],[4.395e-5,0.0502],[4.315e-5,0.0596],[4.335e-5,0.0466],[4.355e-5,0.0367],[4.375e-5,0.0582],[4.395e-5,0.0457],[4.345e-5,0.0413],
[4.405e-5,0.0567],[4.415e-5,0.0451],[4.425e-5,0.0524],[4.435e-5,0.0416],[4.445e-5,0.0586],[4.455e-5,0.0491],[4.465e-5,0.0376],[4.475e-5,0.0539],
[4.485e-5,0.0433],[4.495e-5,0.0509],[4.415e-5,0.0601],[4.435e-5,0.0469],[4.455e-5,0.0389],[4.475e-5,0.0558],[4.495e-5,0.0444],[4.445e-5,0.0357],
[4.505e-5,0.0571],[4.515e-5,0.0448],[4.525e-5,0.0527],[4.535e-5,0.0408],[4.545e-5,0.0559],[4.555e-5,0.0486],[4.565e-5,0.0385],[4.575e-5,0.0544],
[4.585e-5,0.0425],[4.595e-5,0.0504],[4.515e-5,0.0592],[4.535e-5,0.0473],[4.555e-5,0.0364],[4.575e-5,0.0579],[4.595e-5,0.0452],[4.545e-5,0.0417],
[4.605e-5,0.0563],[4.615e-5,0.0456],[4.625e-5,0.0518],[4.635e-5,0.0412],[4.645e-5,0.0583],[4.655e-5,0.0489],[4.665e-5,0.0377],[4.675e-5,0.0536],
[4.685e-5,0.0438],[4.695e-5,0.0511],[4.615e-5,0.0597],[4.635e-5,0.0465],[4.655e-5,0.0392],[4.675e-5,0.0556],[4.695e-5,0.0443],
[4.705e-5,0.0576],[4.715e-5,0.0445],[4.725e-5,0.0522],[4.735e-5,0.0406],[4.745e-5,0.0562],[4.755e-5,0.0483],[4.765e-5,0.0382],[4.775e-5,0.0549],
[4.785e-5,0.0427],[4.795e-5,0.0507],[4.715e-5,0.0601],[4.735e-5,0.0469],[4.755e-5,0.0361],[4.775e-5,0.0581],[4.795e-5,0.0451],
[4.805e-5,0.0568],[4.815e-5,0.0452],[4.825e-5,0.0525],[4.835e-5,0.0414],[4.845e-5,0.0587],[4.855e-5,0.0487],[4.865e-5,0.0379],[4.875e-5,0.0538],
[4.885e-5,0.0434],[4.895e-5,0.0512],[4.815e-5,0.0595],[4.835e-5,0.0466],[4.855e-5,0.0394],[4.875e-5,0.0559],[4.895e-5,0.0446],
[4.905e-5,0.0572],[4.915e-5,0.0447],[4.925e-5,0.0519],[4.935e-5,0.0409],[4.945e-5,0.0561],[4.955e-5,0.0484],[4.965e-5,0.0386],[4.975e-5,0.0543],
[4.985e-5,0.0428],[4.995e-5,0.0505],[4.915e-5,0.0599],[4.935e-5,0.0471],[4.955e-5,0.0368],[4.975e-5,0.0578],[4.995e-5,0.0454],
[5.005e-5,0.0566],[5.015e-5,0.0453],[5.025e-5,0.0522],[5.035e-5,0.0413],[5.045e-5,0.0584],[5.055e-5,0.0489],[5.065e-5,0.0381],[5.075e-5,0.0536],
[5.085e-5,0.0431],[5.095e-5,0.0509],[5.015e-5,0.0593],[5.035e-5,0.0467],[5.055e-5,0.0397],[5.075e-5,0.0557],[5.095e-5,0.0444],
[5.105e-5,0.0561],[5.125e-5,0.0448],[5.145e-5,0.0517],[5.165e-5,0.0411],[5.185e-5,0.0577],[5.205e-5,0.0482],[5.225e-5,0.0388],[5.245e-5,0.0538],
[5.265e-5,0.0433],[5.285e-5,0.0502],[5.175e-5,0.0468],[5.235e-5,0.0591],[5.115e-5,0.0456],[5.155e-5,0.0532],[5.195e-5,0.0419],[5.215e-5,0.0547],
[5.255e-5,0.0474],[5.275e-5,0.0397],
[5.305e-5,0.0556],[5.325e-5,0.0451],[5.345e-5,0.0523],[5.365e-5,0.0409],[5.385e-5,0.0568],[5.405e-5,0.0486],[5.425e-5,0.0391],[5.445e-5,0.0539],
[5.465e-5,0.0437],[5.485e-5,0.0511],[5.505e-5,0.0574],[5.525e-5,0.0462],[5.545e-5,0.0403],[5.565e-5,0.0528],[5.585e-5,0.0478],[5.605e-5,0.0436],
[5.625e-5,0.0547],[5.335e-5,0.0482],[5.395e-5,0.0443],[5.455e-5,0.0494],[5.515e-5,0.0421],[5.575e-5,0.0561],
[6.305e-5,0.0493],[6.325e-5,0.0457],[6.345e-5,0.0514],[6.365e-5,0.0472],[6.385e-5,0.0437],[6.405e-5,0.0529],[6.425e-5,0.0488],[6.445e-5,0.0451],
[6.465e-5,0.0506],[6.485e-5,0.0468],[6.505e-5,0.0494],[6.525e-5,0.0446],[6.545e-5,0.0517],[6.565e-5,0.0479],[6.585e-5,0.0431],
[6.605e-5,0.0491],[6.615e-5,0.0458],[6.625e-5,0.0512],[6.635e-5,0.0474],[6.645e-5,0.0436],[6.655e-5,0.0527],[6.665e-5,0.0483],[6.675e-5,0.0449],
[6.685e-5,0.0502],[6.695e-5,0.0466],[6.625e-5,0.0541],[6.675e-5,0.0427],
[6.705e-5,0.0487],[6.715e-5,0.0452],[6.725e-5,0.0516],[6.735e-5,0.0471],[6.745e-5,0.0439],[6.755e-5,0.0529],[6.765e-5,0.0494],[6.775e-5,0.0446],
[6.785e-5,0.0508],[6.795e-5,0.0463],[6.735e-5,0.0548],[6.785e-5,0.0431],
[6.805e-5,0.0493],[6.815e-5,0.0455],[6.825e-5,0.0519],[6.835e-5,0.0477],[6.845e-5,0.0441],[6.855e-5,0.0533],[6.865e-5,0.0486],[6.875e-5,0.0452],
[6.885e-5,0.0511],[6.895e-5,0.0468],[6.835e-5,0.0545],[6.885e-5,0.0429],
[6.905e-5,0.0489],[6.915e-5,0.0457],[6.925e-5,0.0514],[6.935e-5,0.0473],[6.945e-5,0.0437],[6.955e-5,0.0528],[6.965e-5,0.0491],[6.975e-5,0.0448],
[6.985e-5,0.0506],[6.995e-5,0.0465],[6.935e-5,0.0551],[6.985e-5,0.0433],
[7.005e-5,0.0495],[7.015e-5,0.0453],[7.025e-5,0.0517],[7.035e-5,0.0479],[7.045e-5,0.0443],[7.055e-5,0.0531],[7.065e-5,0.0488],[7.075e-5,0.0454],
[7.085e-5,0.0509],[7.095e-5,0.0471],[7.035e-5,0.0547],[7.085e-5,0.0428],
[7.105e-5,0.0492],[7.115e-5,0.0459],[7.125e-5,0.0513],[7.135e-5,0.0476],[7.145e-5,0.0438],[7.155e-5,0.0526],[7.165e-5,0.0493],[7.175e-5,0.0447],
[7.185e-5,0.0504],[7.195e-5,0.0467],[7.135e-5,0.0544],[7.185e-5,0.0432],
[7.205e-5,0.0489],[7.215e-5,0.0454],[7.225e-5,0.0518],[7.235e-5,0.0474],[7.245e-5,0.0442],[7.255e-5,0.0532],[7.265e-5,0.0487],[7.275e-5,0.0451],
[7.285e-5,0.0507],[7.295e-5,0.0469],[7.235e-5,0.0549],[7.285e-5,0.0426],
[7.305e-5,0.0496],[7.315e-5,0.0456],[7.325e-5,0.0515],[7.335e-5,0.0478],[7.345e-5,0.0439],[7.355e-5,0.0529],[7.365e-5,0.0491],[7.375e-5,0.0449],
[7.385e-5,0.0511],[7.395e-5,0.0464],[7.335e-5,0.0546],[7.385e-5,0.0431],
[7.405e-5,0.0488],[7.415e-5,0.0457],[7.425e-5,0.0516],[7.435e-5,0.0472],[7.445e-5,0.0444],[7.455e-5,0.0527],[7.465e-5,0.0494],[7.475e-5,0.0448],
[7.485e-5,0.0506],[7.495e-5,0.0467],[7.435e-5,0.0543],[7.485e-5,0.0429],
[7.505e-5,0.0493],[7.515e-5,0.0455],[7.525e-5,0.0512],[7.535e-5,0.0477],[7.545e-5,0.0438],[7.555e-5,0.0531],[7.565e-5,0.0489],[7.575e-5,0.0452],
[7.585e-5,0.0508],[7.595e-5,0.0471],[7.535e-5,0.0548],[7.585e-5,0.0433],
[7.605e-5,0.0491],[7.615e-5,0.0458],[7.625e-5,0.0517],[7.635e-5,0.0474],[7.645e-5,0.0441],[7.655e-5,0.0528],[7.665e-5,0.0486],[7.675e-5,0.0447],
[7.685e-5,0.0503],[7.695e-5,0.0465],[7.635e-5,0.0544],[7.685e-5,0.0427],
[7.705e-5,0.0494],[7.715e-5,0.0453],[7.725e-5,0.0514],[7.735e-5,0.0479],[7.745e-5,0.0437],[7.755e-5,0.0525],[7.765e-5,0.0492],[7.775e-5,0.0449],
[7.785e-5,0.0509],[7.795e-5,0.0468],[7.735e-5,0.0547],[7.785e-5,0.0432],
[7.805e-5,0.0487],[7.815e-5,0.0456],[7.825e-5,0.0519],[7.835e-5,0.0473],[7.845e-5,0.0443],[7.855e-5,0.0532],[7.865e-5,0.0488],[7.875e-5,0.0451],
[7.885e-5,0.0505],[7.895e-5,0.0466],[7.835e-5,0.0542],[7.885e-5,0.0429],
[7.905e-5,0.0492],[7.915e-5,0.0454],[7.925e-5,0.0513],[7.935e-5,0.0476],[7.945e-5,0.0439],[7.955e-5,0.0527],[7.965e-5,0.0491],[7.975e-5,0.0448],
[7.985e-5,0.0507],[7.995e-5,0.0469],
[8.005e-5,0.0489],[8.015e-5,0.0457],[8.025e-5,0.0516],[8.035e-5,0.0472],[8.045e-5,0.0442],[8.055e-5,0.0529],[8.065e-5,0.0486],[8.075e-5,0.0452],
[8.085e-5,0.0504],[8.095e-5,0.0464],
[8.12e-5,0.0495],[8.14e-5,0.0453],[8.16e-5,0.0518],[8.18e-5,0.0468],[8.20e-5,0.0441],[8.22e-5,0.0526],[8.24e-5,0.0487],[8.26e-5,0.0456],
[8.28e-5,0.0509],[8.30e-5,0.0472],
[8.33e-5,0.0488],[8.36e-5,0.0452],[8.39e-5,0.0514],[8.42e-5,0.0466],[8.45e-5,0.0437],[8.48e-5,0.0521],[8.51e-5,0.0483],[8.54e-5,0.0459],
[8.57e-5,0.0497]
];

// Cores e fontes
const corCurva = '#000000';
const corSopro = '#C0504D';
const corGrade = '#d9d9d9';
const corEixo = '#bfbfbf';
const fonteBase = 'Lato, "Open Sans", "DejaVu Sans", sans-serif';

// Legenda centrada acima da área do gráfico e título do eixo horizontal
const legendaTopo = {
  id: 'legendaTopo',
  afterDraw(chart, args, opts) {
    const ctx = chart.ctx;
    const area = chart.chartArea;
    ctx.save();
    ctx.font = `${opts.fontSize}px ${fonteBase}`;
    ctx.textBaseline = 'middle';
    ctx.textAlign = 'left';
    const itens = chart.data.datasets.map(d => ({
      d, w: opts.amostra + opts.folga + ctx.measureText(d.label).width
    }));
    const total = itens.reduce((s, it) => s + it.w, 0) + opts.espaco * (itens.length - 1);
    let x = opts.centroX - total / 2;
    const y = opts.y;
    itens.forEach(({ d, w }) => {
      if (d.showLine) {
        ctx.strokeStyle = d.borderColor;
        ctx.lineWidth = d.borderWidth;
        ctx.beginPath();
        ctx.moveTo(x, y);
        ctx.lineTo(x + opts.amostra, y);
        ctx.stroke();
      } else {
        ctx.fillStyle = d.pointBackgroundColor;
        ctx.beginPath();
        ctx.arc(x + opts.amostra / 2, y, opts.raioPonto, 0, Math.PI * 2);
        ctx.fill();
      }
      ctx.fillStyle = opts.cor;
      ctx.fillText(d.label, x + opts.amostra + opts.folga, y + 1);
      x += w + opts.espaco;
    });

    // título do eixo X
    ctx.font = `bold ${opts.tituloTamanho}px ${fonteBase}`;
    ctx.textAlign = 'center';
    ctx.fillStyle = '#000';
    ctx.fillText(opts.tituloX, (area.left + area.right) / 2 + opts.tituloDesvio, opts.tituloY);
    ctx.restore();
  }
};

// Sombra suave sob a curva de Matsu-ura
const sombraCurva = {
  id: 'sombraCurva',
  beforeDatasetDraw(chart, args) {
    if (args.index !== 0) return;
    const ctx = chart.ctx;
    ctx.save();
    ctx.shadowColor = 'rgba(0,0,0,0.35)';
    ctx.shadowBlur = 4;
    ctx.shadowOffsetX = 1;
    ctx.shadowOffsetY = 2;
  },
  afterDatasetDraw(chart, args) {
    if (args.index !== 0) return;
    chart.ctx.restore();
  }
};

const marcaMaior = (rotulos) => (ctx) =>
  (ctx.tick && rotulos[ctx.index]) ? corEixo : 'rgba(0,0,0,0)';

new Chart(document.getElementById('grafico'), {
  type: 'scatter',
  data: {
    datasets: [
      {
        label: 'Curva de Matsu-ura',
        data: curvaX.map((x, i) => ({ x, y: curvaY[i] })),
        showLine: true,
        borderColor: corCurva,
        borderWidth: 3,
        pointRadius: 0,
        tension: 0,
        order: 0
      },
      {
        label: 'Sopro - Nível S1',
        data: soproPontos.map(([x, y]) => ({ x, y })),
        showLine: false,
        pointRadius: 2.3,
        pointBackgroundColor: corSopro,
        pointBorderWidth: 0,
        borderColor: corSopro,
        order: 1
      }
    ]
  },
  options: {
    responsive: false,
    animation: false,
    events: [],
    layout: { padding: { left: 10, right: 59, top: 53, bottom: 0 } },
    plugins: {
      legend: { display: false },
      tooltip: { enabled: false },
      legendaTopo: {
        fontSize: 17, cor: '#262626', centroX: 518, y: 33,
        amostra: 25, folga: 4, espaco: 26, raioPonto: 2,
        tituloX: 'Intensidade de Irrigação Adimensional',
        tituloTamanho: 22.5, tituloY: 607, tituloDesvio: 16
      }
    },
    scales: {
      x: {
        type: 'logarithmic',
        min: ticksX[0],
        max: ticksX[ticksX.length - 1],
        afterBuildTicks: (s) => { s.ticks = ticksX.map(v => ({ value: v })); },
        afterFit: (s) => { s.height = 55; },
        ticks: {
          autoSkip: false, maxRotation: 0, minRotation: 0, padding: 9,
          color: '#262626',
          font: { family: fonteBase, size: 16 },
          callback: (v, i) => rotulosX[i]
        },
        grid: { color: corGrade, lineWidth: 1, tickLength: 6, tickColor: marcaMaior(rotulosX) },
        border: { color: corEixo, width: 1 }
      },
      y: {
        type: 'logarithmic',
        min: ticksY[0],
        max: ticksY[ticksY.length - 1],
        afterBuildTicks: (s) => { s.ticks = ticksY.map(v => ({ value: v })); },
        afterFit: (s) => { s.width = 85; },
        ticks: {
          autoSkip: false, padding: 9,
          color: '#262626',
          font: { family: fonteBase, size: 16 },
          callback: (v, i) => rotulosY[i]
        },
        grid: { color: corGrade, lineWidth: 1, tickLength: 6, tickColor: marcaMaior(rotulosY) },
        border: { color: corEixo, width: 1 },
        title: {
          display: true,
          text: 'Queda de Pressão Adiminesional',
          color: '#000',
          font: { family: fonteBase, size: 22, weight: 'bold' },
          padding: { top: 7, bottom: 0 }
        }
      }
    }
  },
  plugins: [legendaTopo, sombraCurva]
});
</script>
</body>
</html>
